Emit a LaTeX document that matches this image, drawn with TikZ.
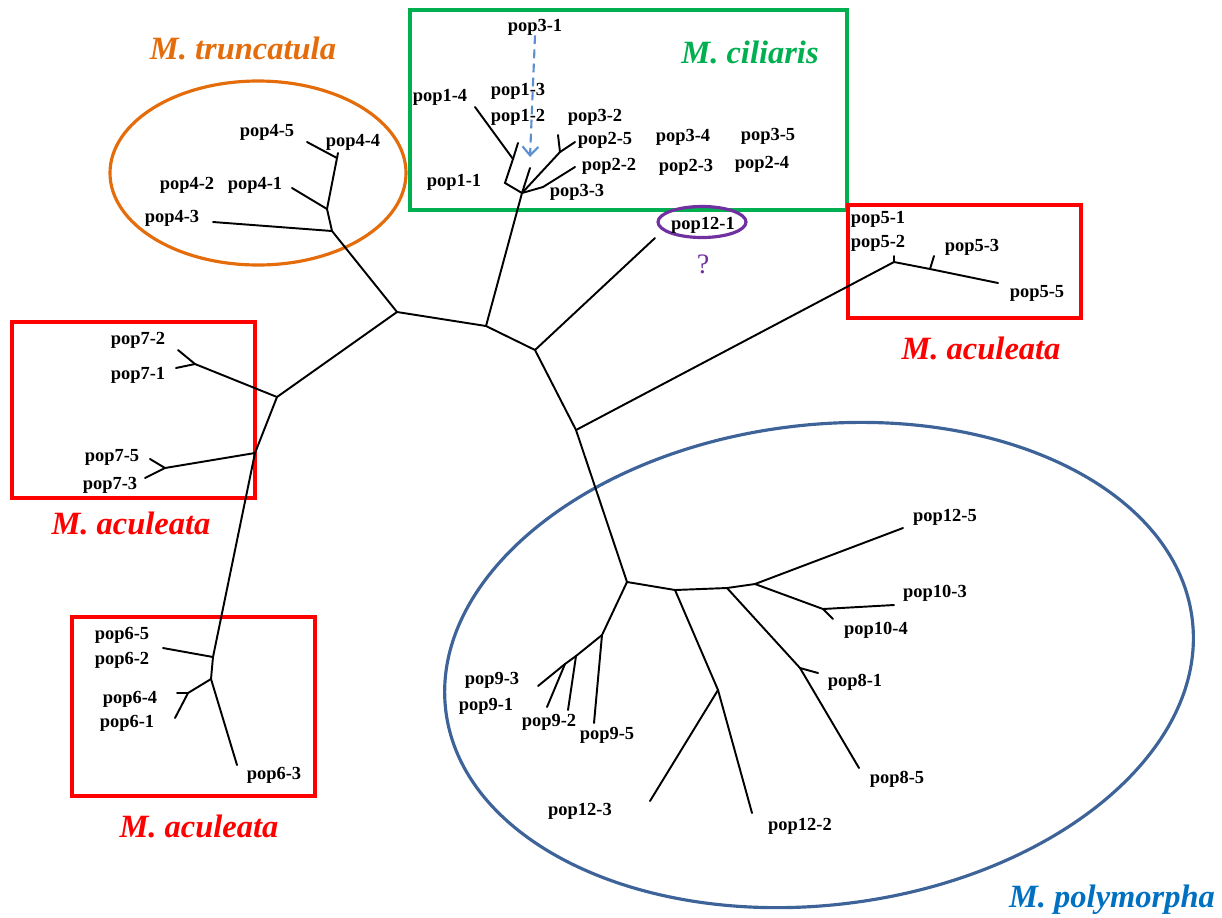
\documentclass[tikz,border=0pt]{standalone}
\usepackage{fontspec}
\setmainfont{Liberation Serif}
\usetikzlibrary{arrows.meta}
\definecolor{truncol}{HTML}{E46C0A}
\definecolor{cilcol}{HTML}{00B050}
\definecolor{aculcol}{HTML}{FF0000}
\definecolor{polyring}{HTML}{3D6399}
\definecolor{polytext}{HTML}{0070C0}
\definecolor{unkcol}{HTML}{7030A0}
\definecolor{arrcol}{HTML}{5B8FD0}
\tikzset{
  pop/.style={font=\fontsize{10.5}{12}\selectfont\bfseries,inner sep=0pt},
  species/.style={font=\fontsize{18.5}{22}\selectfont\bfseries\itshape,inner sep=0pt},
  branch/.style={line width=1.1pt,line cap=round},
  frame/.style={line width=1.8pt}
}
\begin{document}
\begin{tikzpicture}[x=0.02cm,y=-0.02cm]
\useasboundingbox (0,0) rectangle (1222,917);

% group outlines
\draw[frame,truncol] (258,173) ellipse [x radius=148,y radius=92];
\draw[frame,cilcol] (410,10) rectangle (847,210);
\draw[frame,aculcol] (12,322) rectangle (255,498);
\draw[frame,aculcol] (72,617) rectangle (315,796);
\draw[frame,aculcol] (848,205) rectangle (1081,318);
\coordinate (polyc) at (819,665);
\draw[frame,polyring,rotate around={7:(polyc)}] (polyc) ellipse [x radius=376,y radius=240];
\draw[frame,unkcol] (702,222) ellipse [x radius=44,y radius=15.5];

% species names
\node[species,truncol] (sTrunc) at (243,48) {M. truncatula};
\node[species,cilcol] (sCil) at (750,52) {M. ciliaris};
\node[species,aculcol] (sAcul5) at (981,348) {M. aculeata};
\node[species,aculcol] (sAcul7) at (131,523) {M. aculeata};
\node[species,aculcol] (sAcul6) at (199,826) {M. aculeata};
\node[species,polytext] (sPoly) at (1112,900) {M. polymorpha};
\node[font=\fontsize{16}{18}\selectfont,unkcol,inner sep=0pt] (qm) at (703,264) {?};

% inner nodes of the tree
\coordinate (A) at (397,312);
\coordinate (B) at (486,326);
\coordinate (C) at (535,350);
\coordinate (D) at (576,430);
\coordinate (T1) at (332,231);
\coordinate (T2) at (327,209);
\coordinate (T3) at (337,158);
\coordinate (L) at (277,397);
\coordinate (M) at (255,453);
\coordinate (P7a) at (195,364);
\coordinate (P7b) at (165,468);
\coordinate (P6a) at (213,657);
\coordinate (P6b) at (211,679);
\coordinate (P6c) at (188,693);
\coordinate (Ci) at (522,193);
\coordinate (Ci1) at (505,183);
\coordinate (Ci2) at (513,159);
\coordinate (Ci3) at (560,152);
\coordinate (Ci4) at (543,187);
\coordinate (P5a) at (894,262);
\coordinate (P5b) at (930,269);
\coordinate (Po) at (627,582);
\coordinate (P9a) at (602,635);
\coordinate (P9b) at (576,656);
\coordinate (P9c) at (565,664);
\coordinate (P12) at (675,590);
\coordinate (P12b) at (718,690);
\coordinate (P10) at (727,588);
\coordinate (P8) at (800,668);
\coordinate (P11) at (755,584);
\coordinate (P10b) at (823,609);

% leaf ends
\coordinate (e43) at (213,222);
\coordinate (e41) at (292,188);
\coordinate (e45) at (307,142);
\coordinate (e44) at (338,153);
\coordinate (e72) at (178,350);
\coordinate (e71) at (176,368);
\coordinate (e75) at (150,459);
\coordinate (e73) at (145,478);
\coordinate (e65) at (163,648);
\coordinate (e64) at (177,693);
\coordinate (e61) at (175,718);
\coordinate (e63) at (237,765);
\coordinate (e14) at (475,107);
\coordinate (e13) at (518,143);
\coordinate (e12) at (530,168);
\coordinate (e32) at (558,135);
\coordinate (e25) at (575,142);
\coordinate (e22) at (575,167);
\coordinate (e121) at (655,238);
\coordinate (e51) at (894,256);
\coordinate (e53) at (934,256);
\coordinate (e55) at (998,283);
\coordinate (e93) at (538,686);
\coordinate (e91) at (547,707);
\coordinate (e92) at (568,710);
\coordinate (e95) at (594,723);
\coordinate (e123) at (650,801);
\coordinate (e122) at (752,813);
\coordinate (e81) at (818,673);
\coordinate (e85) at (859,768);
\coordinate (e125) at (903,528);
\coordinate (e103) at (894,605);
\coordinate (e104) at (833,619);

% branches
\draw[branch] (A) -- (B) -- (C) -- (D) -- (Po);
\draw[branch] (A) -- (T1) -- (e43);
\draw[branch] (T1) -- (T2) -- (e41);
\draw[branch] (T2) -- (T3) -- (e45);
\draw[branch] (T3) -- (e44);
\draw[branch] (A) -- (L) -- (P7a) -- (e72);
\draw[branch] (P7a) -- (e71);
\draw[branch] (L) -- (M) -- (P7b) -- (e75);
\draw[branch] (P7b) -- (e73);
\draw[branch] (M) -- (P6a) -- (e65);
\draw[branch] (P6a) -- (P6b) -- (P6c) -- (e64);
\draw[branch] (P6c) -- (e61);
\draw[branch] (P6b) -- (e63);
\draw[branch] (B) -- (Ci) -- (Ci1) -- (Ci2) -- (e14);
\draw[branch] (Ci2) -- (e13);
\draw[branch] (Ci) -- (e12);
\draw[branch] (Ci) -- (Ci3) -- (e32);
\draw[branch] (Ci3) -- (e25);
\draw[branch] (Ci) -- (Ci4) -- (e22);
\draw[branch] (C) -- (e121);
\draw[branch] (D) -- (P5a) -- (e51);
\draw[branch] (P5a) -- (P5b) -- (e53);
\draw[branch] (P5b) -- (e55);
\draw[branch] (Po) -- (P9a) -- (e95);
\draw[branch] (P9a) -- (P9b) -- (e92);
\draw[branch] (P9b) -- (P9c) -- (e93);
\draw[branch] (P9c) -- (e91);
\draw[branch] (Po) -- (P12) -- (P12b) -- (e123);
\draw[branch] (P12b) -- (e122);
\draw[branch] (P12) -- (P10) -- (P8) -- (e81);
\draw[branch] (P8) -- (e85);
\draw[branch] (P10) -- (P11) -- (e125);
\draw[branch] (P11) -- (P10b) -- (e103);
\draw[branch] (P10b) -- (e104);

% population labels
\node[pop] (l45) at (267,132) {pop4-5};
\node[pop] (l44) at (353,142) {pop4-4};
\node[pop] (l42) at (187,185) {pop4-2};
\node[pop] (l41) at (255,185) {pop4-1};
\node[pop] (l43) at (172,218) {pop4-3};
\node[pop] (l31) at (535,27) {pop3-1};
\node[pop] (l14) at (440,97) {pop1-4};
\node[pop] (l13) at (518,91) {pop1-3};
\node[pop] (l12) at (518,117) {pop1-2};
\node[pop] (l32) at (595,117) {pop3-2};
\node[pop] (l25) at (605,140) {pop2-5};
\node[pop] (l34) at (683,137) {pop3-4};
\node[pop] (l35) at (768,136) {pop3-5};
\node[pop] (l22) at (609,166) {pop2-2};
\node[pop] (l23) at (686,167) {pop2-3};
\node[pop] (l24) at (762,164) {pop2-4};
\node[pop] (l11) at (454,182) {pop1-1};
\node[pop] (l33) at (577,192) {pop3-3};
\node[pop] (l121) at (703,225) {pop12-1};
\node[pop] (l51) at (878,219) {pop5-1};
\node[pop] (l52) at (878,243) {pop5-2};
\node[pop] (l53) at (972,247) {pop5-3};
\node[pop] (l55) at (1037,293) {pop5-5};
\node[pop] (l72) at (138,340) {pop7-2};
\node[pop] (l71) at (138,375) {pop7-1};
\node[pop] (l75) at (112,457) {pop7-5};
\node[pop] (l73) at (110,485) {pop7-3};
\node[pop] (l65) at (122,635) {pop6-5};
\node[pop] (l62) at (122,660) {pop6-2};
\node[pop] (l64) at (130,699) {pop6-4};
\node[pop] (l61) at (127,723) {pop6-1};
\node[pop] (l63) at (274,775) {pop6-3};
\node[pop] (l125) at (945,517) {pop12-5};
\node[pop] (l103) at (935,593) {pop10-3};
\node[pop] (l104) at (876,630) {pop10-4};
\node[pop] (l81) at (855,682) {pop8-1};
\node[pop] (l85) at (897,779) {pop8-5};
\node[pop] (l93) at (492,680) {pop9-3};
\node[pop] (l91) at (486,706) {pop9-1};
\node[pop] (l92) at (549,722) {pop9-2};
\node[pop] (l95) at (607,735) {pop9-5};
\node[pop] (l123) at (580,811) {pop12-3};
\node[pop] (l122) at (800,826) {pop12-2};

% pop3-1 moved next to pop1-2/pop1-3
\draw[arrcol,line width=1.2pt,dash pattern=on 5pt off 3pt,-{Straight Barb[length=5pt,width=9pt]}] (l31.south) -- (e12 |- 0,157);
\end{tikzpicture}
\end{document}
